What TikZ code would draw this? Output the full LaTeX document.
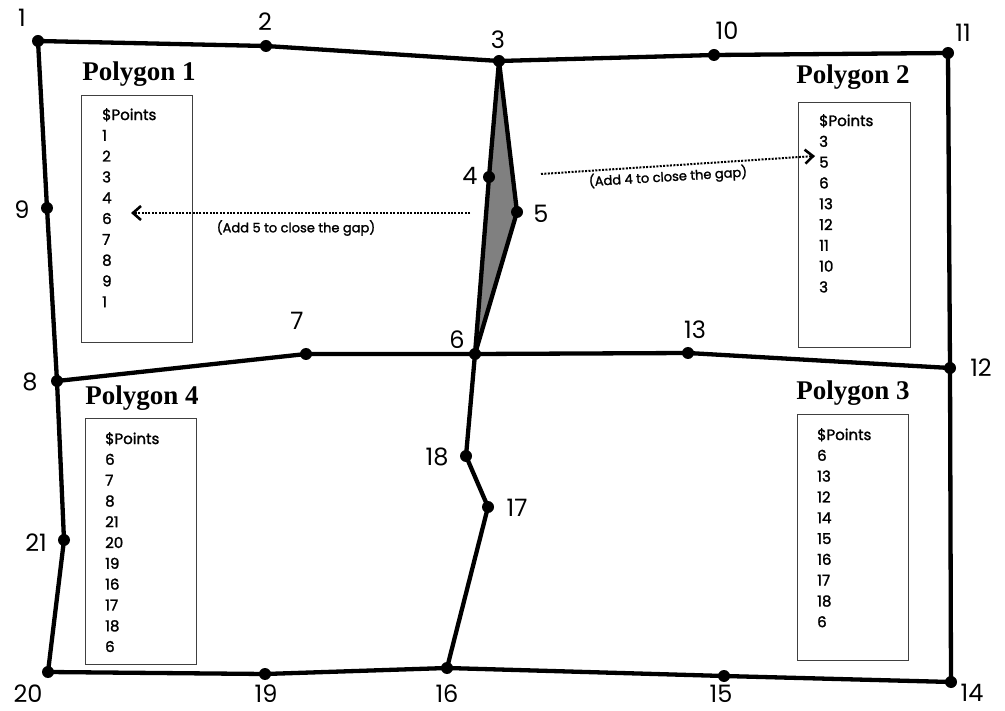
\documentclass[tikz,border=0pt]{standalone}
\usepackage{fontspec}
\setmainfont{Poppins}
\newfontfamily\listfont[FakeBold=1.6]{Poppins}
\newfontfamily\titlefont{Liberation Serif}
\usetikzlibrary{arrows.meta}
\begin{document}
\begin{tikzpicture}[x=1pt,y=-1pt,
  edge/.style={line width=4.3pt,line join=round,line cap=round},
  dot/.style={circle,fill=black,inner sep=0pt,minimum size=12pt},
  lbl/.style={font=\fontsize{24}{24}\selectfont,inner sep=0pt},
  ptbox/.style={draw=black!75,line width=1.2pt,anchor=north west,inner sep=0pt},
  ptlist/.style={anchor=north west,align=left,inner sep=0pt,
    font=\listfont\fontsize{15}{20.8}\selectfont},
  ptitle/.style={font=\titlefont\bfseries\fontsize{27}{27}\selectfont,inner sep=0pt},
  hint/.style={font=\listfont\fontsize{13}{13}\selectfont,inner sep=0pt},
  gaparrow/.style={line width=2pt,dash pattern=on 2pt off 1.4pt,
    -{Straight Barb[length=8pt,width=14pt,line width=2.6pt]}}
]
\useasboundingbox (0,0) rectangle (1005,711);

% vertices
\coordinate (p1) at (38,41);
\coordinate (p2) at (266,46);
\coordinate (p3) at (499,61);
\coordinate (p4) at (489,177);
\coordinate (p5) at (517,212);
\coordinate (p6) at (475,354);
\coordinate (p7) at (306,354);
\coordinate (p8) at (57,381);
\coordinate (p9) at (47,208);
\coordinate (p10) at (714,55);
\coordinate (p11) at (948,53);
\coordinate (p12) at (950,368);
\coordinate (p13) at (688,353);
\coordinate (p14) at (951,682);
\coordinate (p15) at (724,676);
\coordinate (p16) at (447,668);
\coordinate (p17) at (488,507);
\coordinate (p18) at (466,456);
\coordinate (p19) at (265,674);
\coordinate (p20) at (48,672);
\coordinate (p21) at (64,540);

% shaded sliver between the two inner edges
\fill[black!50] (p3) -- (p4) -- (p6) -- (p5) -- cycle;

% outer boundary
\draw[edge] (p1) -- (p2) -- (p3) -- (p10) -- (p11) -- (p12) -- (p14) -- (p15)
  -- (p16) -- (p19) -- (p20) -- (p21) -- (p8) -- (p9) -- cycle;
% inner boundaries
\draw[edge] (p8) -- (p7) -- (p6) -- (p13) -- (p12);
\draw[edge] (p3) -- (p4) -- (p6);
\draw[edge] (p3) -- (p5) -- (p6);
\draw[edge] (p6) -- (p18) -- (p17) -- (p16);

% vertex dots
\foreach \i in {1,...,21} \node[dot] (d\i) at (p\i) {};

% vertex numbers
\node[lbl] (l1) at (22,18) {1};
\node[lbl] (l2) at (265,22) {2};
\node[lbl] (l3) at (498,40) {3};
\node[lbl] (l10) at (727,31) {10};
\node[lbl] (l11) at (963,33) {11};
\node[lbl] (l9) at (22,210) {9};
\node[lbl] (l4) at (470,176) {4};
\node[lbl] (l5) at (541,214) {5};
\node[lbl] (l7) at (297,321) {7};
\node[lbl] (l6) at (457,340) {6};
\node[lbl] (l13) at (695,330) {13};
\node[lbl] (l12) at (981,368) {12};
\node[lbl] (l8) at (30,382) {8};
\node[lbl] (l18) at (437,457) {18};
\node[lbl] (l17) at (517,508) {17};
\node[lbl] (l21) at (36,543) {21};
\node[lbl] (l20) at (28,694) {20};
\node[lbl] (l19) at (266,694) {19};
\node[lbl] (l16) at (447,694) {16};
\node[lbl] (l15) at (721,694) {15};
\node[lbl] (l14) at (972,693) {14};

% polygon titles
\node[ptitle] (t1) at (139,74) {Polygon 1};
\node[ptitle] (t2) at (853,77) {Polygon 2};
\node[ptitle] (t3) at (853,393) {Polygon 3};
\node[ptitle] (t4) at (142,398) {Polygon 4};

% point lists
\node[ptbox,minimum width=111pt,minimum height=247pt] (b1) at (81,95) {};
\node[ptlist] (s1) at (102,108) {\$Points\\1\\2\\3\\4\\6\\7\\8\\9\\1};
\node[ptbox,minimum width=112pt,minimum height=245pt] (b2) at (798,102) {};
\node[ptlist] (s2) at (819,114) {\$Points\\3\\5\\6\\13\\12\\11\\10\\3};
\node[ptbox,minimum width=111pt,minimum height=246pt] (b3) at (797,414) {};
\node[ptlist] (s3) at (817,428) {\$Points\\6\\13\\12\\14\\15\\16\\17\\18\\6};
\node[ptbox,minimum width=111pt,minimum height=246pt] (b4) at (85,418) {};
\node[ptlist] (s4) at (105,432) {\$Points\\6\\7\\8\\21\\20\\19\\16\\17\\18\\6};

% gap-closing hints
\coordinate (a1s) at (470,213);
\coordinate (a1e) at (131,213);
\draw[gaparrow] (a1s) -- (a1e);
\node[hint] (h1) at (296,228) {(Add 5 to close the gap)};
\coordinate (a2s) at (541,174);
\coordinate (a2e) at (815,156);
\draw[gaparrow] (a2s) -- (a2e);
\node[hint,rotate=3.5] (h2) at (668,177) {(Add 4 to close the gap)};
\end{tikzpicture}
\end{document}
